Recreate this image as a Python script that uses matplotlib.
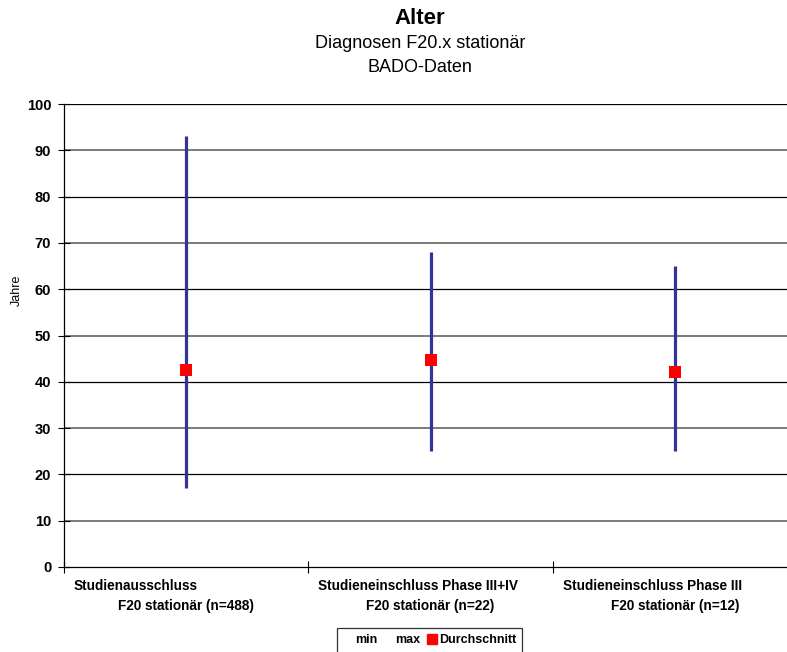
import matplotlib
matplotlib.use("Agg")
import matplotlib.pyplot as plt
from matplotlib.lines import Line2D
import matplotlib.transforms as mtransforms

plt.rcParams['font.family'] = ['Liberation Sans', 'DejaVu Sans']

# ---- data ----
categories_line1 = ["Studienausschluss", "Studieneinschluss Phase III+IV", "Studieneinschluss Phase III"]
categories_line2 = ["F20 stationär (n=488)", "F20 stationär (n=22)", "F20 stationär (n=12)"]
min_values = [17, 25, 25]
max_values = [93, 68, 65]
mean_values = [42.5, 44.7, 42.2]
y_ticks = [0, 10, 20, 30, 40, 50, 60, 70, 80, 90, 100]
legend_labels = ["min", "max", "Durchschnitt"]

W, H = 787, 652
fig = plt.figure(figsize=(W / 100, H / 100), dpi=100)
fig.patch.set_facecolor('white')

left_px, right_px, top_px, bottom_px = 63.7, 797.5, 104, 567
ax = fig.add_axes([left_px / W, 1 - bottom_px / H, (right_px - left_px) / W, (bottom_px - top_px) / H])

xs = list(range(len(min_values)))
blue = '#333399'
red = '#FF0000'

for y in y_ticks[1:]:
    if (y // 10) % 2 == 1:
        ax.axhline(y, color='#7a7a7a', lw=1.4, zorder=1)
    else:
        ax.axhline(y, color='black', lw=0.9, zorder=1)

ax.vlines(xs, min_values, max_values, colors=blue, lw=2.3, zorder=3)
ax.plot(xs, mean_values, linestyle='none', marker='s', markersize=8.6,
        markerfacecolor=red, markeredgecolor=red, markeredgewidth=0, zorder=4)

ax.set_xlim(-0.5, len(xs) - 0.5)
ax.set_ylim(0, 100)
ax.set_yticks(y_ticks)
ax.set_yticklabels([str(v) for v in y_ticks], fontsize=10.5, fontweight='bold')
ax.set_xticks([i - 0.5 for i in range(len(xs) + 1)])
ax.set_xticklabels([])
ax.tick_params(axis='y', direction='inout', length=8, width=0.8, pad=5)
ax.tick_params(axis='x', direction='inout', length=8, width=0.8)

for s in ['top', 'right']:
    ax.spines[s].set_visible(False)
ax.spines['left'].set_linewidth(0.9)
ax.spines['bottom'].set_linewidth(0.9)

trans = mtransforms.blended_transform_factory(ax.transData, fig.transFigure)
off = 10 / ((right_px - left_px) / len(xs))
for i in xs:
    ax.text(i - 0.5 + off, 1 - 590 / H, categories_line1[i], transform=trans,
            ha='left', va='baseline', fontsize=9.8, fontweight='bold')
    ax.text(i, 1 - 610 / H, categories_line2[i], transform=trans,
            ha='center', va='baseline', fontsize=9.8, fontweight='bold')

fig.text(17 / W, 1 - 290 / H, "Jahre", rotation=90, ha='center', va='center', fontsize=9)

fig.text(420 / W, 1 - 18 / H, "Alter", ha='center', va='center', fontsize=16, fontweight='bold')
fig.text(420 / W, 1 - 44 / H, "Diagnosen F20.x stationär", ha='center', va='center', fontsize=13)
fig.text(420 / W, 1 - 67 / H, "BADO-Daten", ha='center', va='center', fontsize=13)

handles = [Line2D([], [], linestyle='none'),
           Line2D([], [], linestyle='none'),
           Line2D([], [], linestyle='none', marker='s', markersize=7,
                  markerfacecolor=red, markeredgecolor=red)]
leg = fig.legend(handles, legend_labels, loc='upper left',
                 bbox_to_anchor=(337 / W, 1 - 628 / H), ncol=3, frameon=True,
                 fancybox=False, edgecolor='black', handlelength=0.8,
                 handletextpad=0.15, columnspacing=0.5, borderpad=0.5,
                 borderaxespad=0.0, prop={'size': 9, 'weight': 'bold'})
leg.get_frame().set_linewidth(0.9)

fig.savefig("out.png", dpi=100, facecolor='white')
